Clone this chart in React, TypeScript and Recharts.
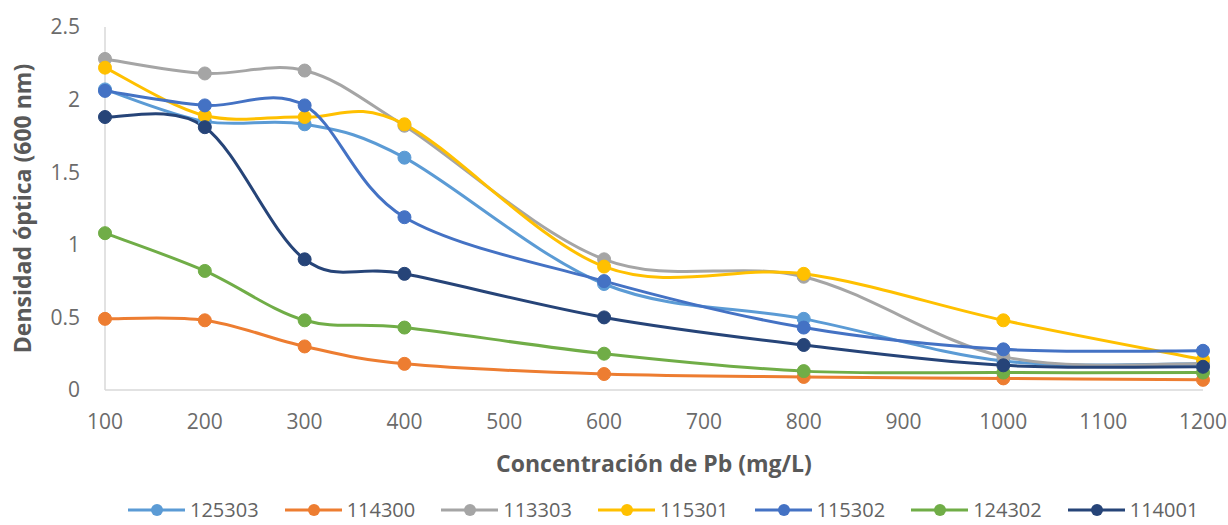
import React from 'react';
import { LineChart, Line, XAxis, YAxis, Legend } from 'recharts';

const concentrations = [100, 200, 300, 400, 600, 800, 1000, 1200];
const xTicks = [100, 200, 300, 400, 500, 600, 700, 800, 900, 1000, 1100, 1200];
const yTicks = [0, 0.5, 1, 1.5, 2, 2.5];

const s125303 = [2.07, 1.85, 1.83, 1.6, 0.73, 0.49, 0.2, 0.18];
const s114300 = [0.49, 0.48, 0.3, 0.18, 0.11, 0.09, 0.08, 0.07];
const s113303 = [2.28, 2.18, 2.2, 1.82, 0.9, 0.78, 0.23, 0.18];
const s115301 = [2.22, 1.89, 1.88, 1.83, 0.85, 0.8, 0.48, 0.21];
const s115302 = [2.06, 1.96, 1.96, 1.19, 0.75, 0.43, 0.28, 0.27];
const s124302 = [1.08, 0.82, 0.48, 0.43, 0.25, 0.13, 0.12, 0.12];
const s114001 = [1.88, 1.81, 0.9, 0.8, 0.5, 0.31, 0.17, 0.16];

const seriesNames = ['125303', '114300', '113303', '115301', '115302', '124302', '114001'];
const seriesValues = [s125303, s114300, s113303, s115301, s115302, s124302, s114001];
const seriesColors = ['#5B9BD5', '#ED7D31', '#A5A5A5', '#FFC000', '#4472C4', '#70AD47', '#264478'];

const data = concentrations.map((c, i) => {
  const row: Record<string, number> = { x: c };
  seriesNames.forEach((n, k) => {
    row[n] = seriesValues[k][i];
  });
  return row;
});

// Catmull-Rom style smoothing (similar to Excel smoothed lines)
function smoothCurve(context: any) {
  let pts: number[][] = [];
  return {
    areaStart() {},
    areaEnd() {},
    lineStart() {
      pts = [];
    },
    point(x: number, y: number) {
      pts.push([+x, +y]);
    },
    lineEnd() {
      if (!pts.length) return;
      context.moveTo(pts[0][0], pts[0][1]);
      for (let i = 0; i < pts.length - 1; i++) {
        const p0 = pts[i - 1] || pts[i];
        const p1 = pts[i];
        const p2 = pts[i + 1];
        const p3 = pts[i + 2] || pts[i + 1];
        context.bezierCurveTo(
          p1[0] + (p2[0] - p0[0]) / 6,
          p1[1] + (p2[1] - p0[1]) / 6,
          p2[0] - (p3[0] - p1[0]) / 6,
          p2[1] - (p3[1] - p1[1]) / 6,
          p2[0],
          p2[1]
        );
      }
    },
  };
}

const FONT = '"Open Sans", sans-serif';

const LegendContent = () => (
  <div
    style={{
      display: 'flex',
      justifyContent: 'flex-start',
      alignItems: 'center',
      gap: 26,
      fontFamily: FONT,
      fontSize: 20,
      lineHeight: '20px',
      height: 20,
      color: '#636363',
      paddingLeft: 128,
      marginTop: 5,
    }}
  >
    {seriesNames.map((n, k) => (
      <div key={n} style={{ display: 'flex', alignItems: 'center', height: 20 }}>
        <svg width={57} height={16} style={{ marginRight: 5 }}>
          <line x1={0} y1={8} x2={57} y2={8} stroke={seriesColors[k]} strokeWidth={3} />
          <circle cx={29} cy={8} r={6} fill={seriesColors[k]} />
        </svg>
        <span>{n}</span>
      </div>
    ))}
  </div>
);

export default function App() {
  return (
    <div style={{ position: 'absolute', left: 0, top: 0, width: 1228, height: 525, background: '#fff', overflow: 'hidden' }}>
      <LineChart width={1228} height={525} data={data} margin={{ top: 27, right: 25, left: 0, bottom: 0 }}>
        <XAxis
          dataKey="x"
          type="number"
          domain={[100, 1200]}
          ticks={xTicks}
          interval={0}
          height={105}
          tickLine={false}
          tickSize={0}
          tickMargin={24}
          axisLine={{ stroke: '#D9D9D9', strokeWidth: 1.5 }}
          tick={{ fill: '#6B6B6B', fontSize: 21, fontFamily: FONT }}
          label={{
            value: 'Concentración de Pb (mg/L)',
            position: 'insideTop',
            offset: 66,
            fill: '#595959',
            fontSize: 23,
            fontWeight: 'bold',
            fontFamily: FONT,
          }}
        />
        <YAxis
          type="number"
          domain={[0, 2.5]}
          ticks={yTicks}
          interval={0}
          width={105}
          tickLine={false}
          tickSize={0}
          tickMargin={25}
          axisLine={{ stroke: '#D9D9D9', strokeWidth: 1.5 }}
          tick={{ fill: '#6B6B6B', fontSize: 21, fontFamily: FONT }}
          label={{
            value: 'Densidad óptica (600 nm)',
            angle: -90,
            position: 'insideLeft',
            offset: 23,
            fill: '#595959',
            fontSize: 23,
            fontWeight: 'bold',
            fontFamily: FONT,
            style: { textAnchor: 'middle' },
          }}
        />
        <Legend verticalAlign="bottom" height={30} content={<LegendContent />} />
        {seriesNames.map((n, k) => (
          <Line
            key={n}
            dataKey={n}
            name={n}
            type={smoothCurve as any}
            stroke={seriesColors[k]}
            strokeWidth={3}
            dot={{ r: 6.5, fill: seriesColors[k], stroke: seriesColors[k], strokeWidth: 1 }}
            activeDot={false}
            isAnimationActive={false}
          />
        ))}
      </LineChart>
    </div>
  );
}
